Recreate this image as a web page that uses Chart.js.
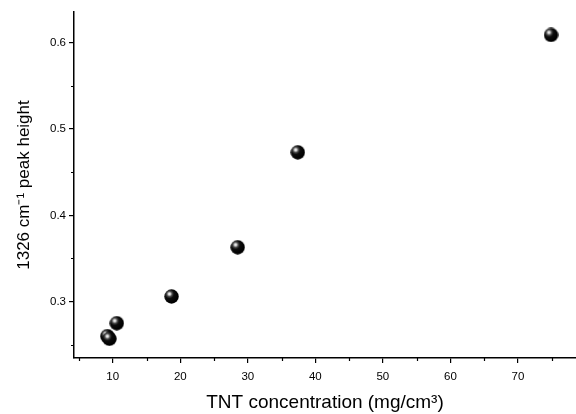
<!DOCTYPE html>
<html>
<head>
<meta charset="utf-8">
<script src="https://cdn.jsdelivr.net/npm/chart.js@4"></script>
<style>
    html, body { margin: 0; padding: 0; background: #ffffff; }
    #wrap { width: 576px; height: 414px; position: relative; }
</style>
</head>
<body>
<div id="wrap"><canvas id="grafico"></canvas></div>
<script>
// dados
const concentracao = [9.2, 9.5, 10.6, 18.7, 28.5, 37.4, 74.9];
const alturaPico = [0.260, 0.257, 0.275, 0.306, 0.363, 0.473, 0.609];

const xTicks = [10, 20, 30, 40, 50, 60, 70];
const xMinor = [5, 15, 25, 35, 45, 55, 65, 75];
const yTicks = [0.3, 0.4, 0.5, 0.6];
const yMinor = [0.25, 0.35, 0.45, 0.55];

// esfera preta com brilho (marcador)
function criarEsfera(d) {
    const c = document.createElement('canvas');
    c.width = d; c.height = d;
    const g = c.getContext('2d');
    const r = d / 2;
    const hx = r * 0.72, hy = r * 0.66;
    const grad = g.createRadialGradient(hx, hy, 0, hx, hy, r * 1.2);
    grad.addColorStop(0, '#ffffff');
    grad.addColorStop(0.12, '#d8d8d8');
    grad.addColorStop(0.3, '#4a4a4a');
    grad.addColorStop(0.5, '#0c0c0c');
    grad.addColorStop(1, '#000000');
    g.fillStyle = grad;
    g.beginPath();
    g.arc(r, r, r - 0.3, 0, Math.PI * 2);
    g.fill();
    return c;
}
const esfera = criarEsfera(15);

// ticks menores
const ticksMenores = {
    id: 'ticksMenores',
    afterDraw(chart) {
        const ctx = chart.ctx;
        const x = chart.scales.x, y = chart.scales.y;
        ctx.save();
        ctx.strokeStyle = '#000';
        ctx.lineWidth = 1.2;
        ctx.beginPath();
        xMinor.forEach(v => {
            const px = Math.round(x.getPixelForValue(v)) + 0.5;
            ctx.moveTo(px, x.top);
            ctx.lineTo(px, x.top + 3);
        });
        yMinor.forEach(v => {
            const py = Math.round(y.getPixelForValue(v)) + 0.5;
            ctx.moveTo(y.right, py);
            ctx.lineTo(y.right - 3, py);
        });
        ctx.stroke();
        ctx.restore();
    }
};

const fonte = 'Liberation Sans, Arial, sans-serif';

new Chart(document.getElementById('grafico'), {
    type: 'scatter',
    data: {
        datasets: [{
            data: concentracao.map((v, i) => ({ x: v, y: alturaPico[i] })),
            pointStyle: esfera,
            pointRadius: 7.5,
            clip: false
        }]
    },
    options: {
        responsive: true,
        maintainAspectRatio: false,
        animation: false,
        layout: { padding: { top: 12, right: 0, left: 0, bottom: 0 }, autoPadding: false },
        plugins: {
            legend: { display: false },
            tooltip: { enabled: false }
        },
        scales: {
            x: {
                type: 'linear',
                min: 4.26,
                max: 78.6,
                afterBuildTicks: s => { s.ticks = xTicks.map(v => ({ value: v })); },
                afterFit: s => { s.height = 56; },
                grid: { drawOnChartArea: false, drawTicks: true, tickLength: 5, color: '#000', lineWidth: 1.2 },
                border: { display: true, color: '#000', width: 1.5 },
                ticks: {
                    color: '#000',
                    font: { family: fonte, size: 11.5 },
                    padding: 7,
                    maxRotation: 0,
                    callback: v => String(v)
                },
                title: {
                    display: true,
                    text: 'TNT concentration (mg/cm³)',
                    color: '#000',
                    font: { family: fonte, size: 19 },
                    padding: { top: 0, bottom: 0 }
                }
            },
            y: {
                type: 'linear',
                min: 0.2347,
                max: 0.6356,
                afterBuildTicks: s => { s.ticks = yTicks.map(v => ({ value: v })); },
                afterFit: s => { s.width = 74; },
                grid: { drawOnChartArea: false, drawTicks: true, tickLength: 5, color: '#000', lineWidth: 1.2 },
                border: { display: true, color: '#000', width: 1.5 },
                ticks: {
                    color: '#000',
                    font: { family: fonte, size: 11.5 },
                    padding: 3,
                    callback: v => v.toFixed(1)
                },
                title: {
                    display: true,
                    text: '1326 cm⁻¹ peak height',
                    color: '#000',
                    font: { family: fonte, size: 17 },
                    padding: { top: 14, bottom: 0 }
                }
            }
        }
    },
    plugins: [ticksMenores]
});
</script>
</body>
</html>
